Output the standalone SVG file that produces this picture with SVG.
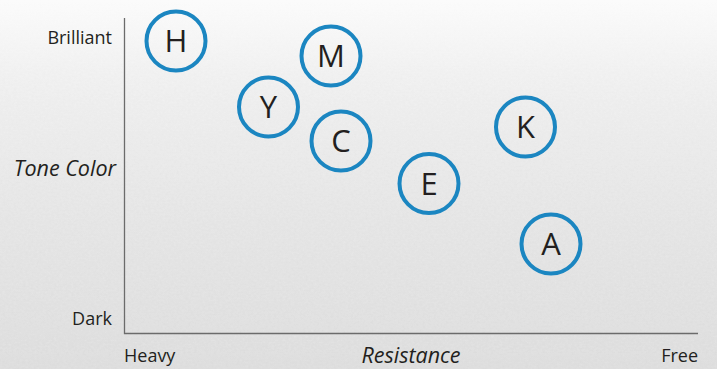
<svg xmlns="http://www.w3.org/2000/svg" width="717" height="369" viewBox="0 0 717 369">
<defs>
<linearGradient id="bg" x1="0" y1="0" x2="0" y2="1">
<stop offset="0" stop-color="#fbfbfb"/>
<stop offset="0.2" stop-color="#f3f3f3"/>
<stop offset="0.6" stop-color="#e9e9e9"/>
<stop offset="1" stop-color="#e2e2e2"/>
</linearGradient>
<filter id="tex" x="0" y="0" width="100%" height="100%">
<feTurbulence type="fractalNoise" baseFrequency="0.35 0.5" numOctaves="2" seed="3" result="n"/>
<feColorMatrix type="matrix" values="0 0 0 0 0.5  0 0 0 0 0.5  0 0 0 0 0.5  0 0 0 0.18 0"/>
</filter>
<linearGradient id="fade" x1="0" y1="0" x2="0" y2="1">
<stop offset="0" stop-color="#fff" stop-opacity="0"/>
<stop offset="0.3" stop-color="#fff" stop-opacity="0.6"/>
<stop offset="1" stop-color="#fff" stop-opacity="1"/>
</linearGradient>
<mask id="m"><rect width="717" height="369" fill="url(#fade)"/></mask>
</defs>
<style>
.lbl{font-family:"Open Sans","Noto Sans",sans-serif;font-size:18px;fill:#231f20}
.it{font-style:italic;font-size:21.5px}
.node circle{fill:none;stroke:#1b86c1;stroke-width:4}
.node text{font-family:"Open Sans","Noto Sans",sans-serif;font-size:31px;fill:#231f20;text-anchor:middle}
.axis{stroke:#6b6b6b;stroke-width:1.3;fill:none}
</style>
<rect width="717" height="369" fill="url(#bg)"/>
<rect width="717" height="369" filter="url(#tex)" mask="url(#m)"/>
<g id="axes">
<path class="axis" d="M124.5 18 V333.5 H698"/>
</g>
<g id="labels">
<text class="lbl" x="112" y="44" text-anchor="end">Brilliant</text>
<text class="lbl it" x="116" y="176" text-anchor="end">Tone Color</text>
<text class="lbl" x="112" y="325" text-anchor="end">Dark</text>
<text class="lbl" x="124" y="362">Heavy</text>
<text class="lbl it" x="411" y="363" text-anchor="middle">Resistance</text>
<text class="lbl" x="698" y="362" text-anchor="end">Free</text>
</g>
<g id="connectors"></g>
<g id="node-H" class="node"><circle cx="176" cy="41" r="29.5"/><text x="176" y="52">H</text></g>
<g id="node-M" class="node"><circle cx="331" cy="56" r="29.5"/><text x="331" y="67">M</text></g>
<g id="node-Y" class="node"><circle cx="268.5" cy="107" r="29.5"/><text x="268.5" y="118">Y</text></g>
<g id="node-C" class="node"><circle cx="341" cy="141" r="29.5"/><text x="341" y="152">C</text></g>
<g id="node-K" class="node"><circle cx="525.5" cy="127" r="29.5"/><text x="525.5" y="138">K</text></g>
<g id="node-E" class="node"><circle cx="429" cy="183.5" r="29.5"/><text x="429" y="194.5">E</text></g>
<g id="node-A" class="node"><circle cx="551" cy="244" r="29.5"/><text x="551" y="255">A</text></g>
</svg>
